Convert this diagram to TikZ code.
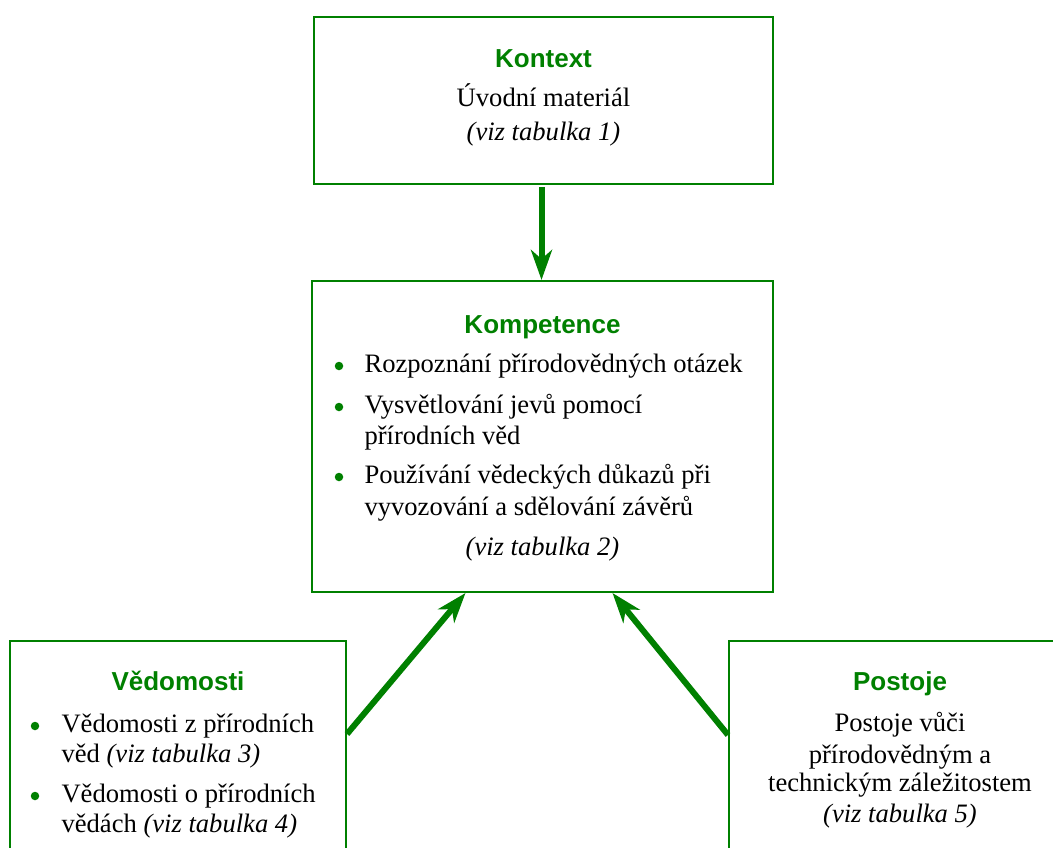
\documentclass[tikz,border=0pt]{standalone}
\usepackage{fontspec}
\setmainfont{Liberation Serif}
\newfontfamily\titlefont{Liberation Sans}
\usetikzlibrary{arrows.meta}
\definecolor{pisagreen}{RGB}{0,128,0}
\def\tab#1{\textit{(viz tabulka #1)}}
\tikzset{
  box/.style={draw=pisagreen,line width=2pt,minimum width=#1,inner sep=0pt},
  head/.style={anchor=base,text=pisagreen,font=\fontsize{26}{31}\selectfont\titlefont\bfseries},
  blt/.style={circle,fill=pisagreen,inner sep=0pt,minimum size=8.5pt},
  ln/.style={anchor=base west},
  mid/.style={anchor=base},
  link/.style={draw=pisagreen,line width=6pt,-{Stealth[length=30pt,width=21pt,inset=9pt]}}
}

\begin{document}
\begin{tikzpicture}[x=1pt,y=-1pt,font=\fontsize{26.6}{31}\selectfont]
  \useasboundingbox (0,0) rectangle (1053,848);
  \clip (0,0) rectangle (1053,848);
  % boxes
  \node[box=459pt,minimum height=167pt] (kontext)    at (543.5,100.5) {};
  \node[box=461pt,minimum height=311pt] (kompetence) at (542.5,436.5) {};
  \node[box=336pt,minimum height=229pt] (vedomosti)  at (178,755.5)   {};
  \node[box=342pt,minimum height=229pt] (postoje)    at (900,755.5)   {};
  % kontext
  \node[head] (kontextT) at (543.5,68)  {Kontext};
  \node[mid]  (kontext1) at (543.5,107) {Úvodní materiál};
  \node[mid]  (kontext2) at (543.5,141) {\tab{1}};
  % kompetence
  \node[head] (kompT) at (542.5,333) {Kompetence};
  \node[blt]  (kompB1) at (339,366) {};
  \node[blt]  (kompB2) at (339,407) {};
  \node[blt]  (kompB3) at (339,477) {};
  \node[ln]   (komp1) at (361,372) {Rozpoznání přírodovědných otázek};
  \node[ln]   (komp2) at (361,413) {Vysvětlování jevů pomocí};
  \node[ln]   (komp3) at (361,444) {přírodních věd};
  \node[ln]   (komp4) at (361,483) {Používání vědeckých důkazů při};
  \node[ln]   (komp5) at (361,515) {vyvozování a sdělování závěrů};
  \node[mid]  (komp6) at (542.5,555) {\tab{2}};
  % vedomosti
  \node[head] (vedT) at (178,690) {Vědomosti};
  \node[blt]  (vedB1) at (35,726) {};
  \node[blt]  (vedB2) at (35,796) {};
  \node[ln]   (ved1) at (58,732) {Vědomosti z přírodních};
  \node[ln]   (ved2) at (58,762) {věd \tab{3}};
  \node[ln]   (ved3) at (58,802) {Vědomosti o přírodních};
  \node[ln]   (ved4) at (58,832) {vědách \tab{4}};
  % postoje
  \node[head] (posT) at (900,690) {Postoje};
  \node[mid]  (pos1) at (900,731) {Postoje vůči};
  \node[mid]  (pos2) at (900,763) {přírodovědným a};
  \node[mid]  (pos3) at (900,791) {technickým záležitostem};
  \node[mid]  (pos4) at (900,822) {\tab{5}};
  % arrows
  \draw[link] ([xshift=-2pt,yshift=-2pt]kontext.south) -- ([xshift=-1pt]kompetence.north);
  \draw[link] ([yshift=-94pt]vedomosti.north east) -- ([xshift=-77pt]kompetence.south);
  \draw[link] ([yshift=-95pt]postoje.north west) -- ([xshift=70pt]kompetence.south);
\end{tikzpicture}
\end{document}
